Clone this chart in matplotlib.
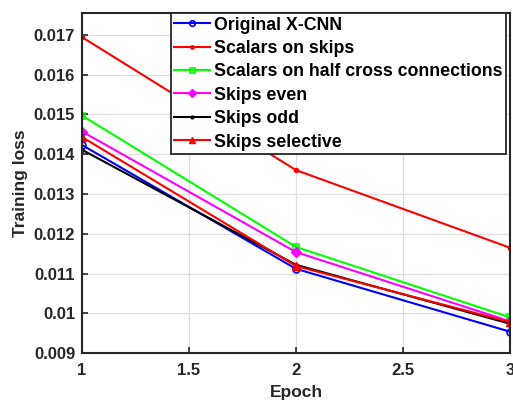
import matplotlib
matplotlib.use("Agg")
import matplotlib.pyplot as plt

plt.rcParams['font.family'] = ['Liberation Sans', 'DejaVu Sans']
plt.rcParams['font.weight'] = 'bold'

epochs = [1, 2, 3]
original_xcnn = [0.01423, 0.01112, 0.00954]
scalars_on_skips = [0.01694, 0.01360, 0.01165]
scalars_half_cross = [0.01497, 0.01167, 0.00990]
skips_even = [0.01457, 0.01154, 0.00980]
skips_odd = [0.01411, 0.01122, 0.00974]
skips_selective = [0.01443, 0.01119, 0.00978]

labels = ["Original X-CNN", "Scalars on skips", "Scalars on half cross connections",
          "Skips even", "Skips odd", "Skips selective"]
x_ticks = [1, 1.5, 2, 2.5, 3]
x_tick_labels = ["1", "1.5", "2", "2.5", "3"]
y_ticks = [0.009, 0.010, 0.011, 0.012, 0.013, 0.014, 0.015, 0.016, 0.017]
y_tick_labels = ["0.009", "0.01", "0.011", "0.012", "0.013", "0.014", "0.015", "0.016", "0.017"]

fig = plt.figure(figsize=(5.13, 4.05), dpi=100)
ax = fig.add_axes([0.160, 0.128, 0.834, 0.840])

styles = [
    dict(color='#0000ff', marker='o', mfc='none', ms=5, mew=1.2),
    dict(color='#ff0000', marker='.', ms=6),
    dict(color='#00ff00', marker='s', mfc='none', ms=4.5, mew=1.2),
    dict(color='#ff00ff', marker='D', ms=5),
    dict(color='#000000', marker='.', ms=5),
    dict(color='#ff0000', marker='^', ms=6),
]
series = [original_xcnn, scalars_on_skips, scalars_half_cross, skips_even, skips_odd, skips_selective]
for vals, lab, st in zip(series, labels, styles):
    ax.plot(epochs, vals, lw=1.5, label=lab, **st)

ax.set_xlim(1, 3)
ax.set_ylim(0.009, 0.01755)
ax.set_xticks(x_ticks)
ax.set_xticklabels(x_tick_labels)
ax.set_yticks(y_ticks)
ax.set_yticklabels(y_tick_labels)
ax.tick_params(labelsize=12, colors='#262626', direction='in', length=4, width=1.2, pad=5)
ax.tick_params(axis='x', pad=7)
for lbl in ax.get_xticklabels() + ax.get_yticklabels():
    lbl.set_fontweight('bold')
ax.grid(True, color='#dedede', lw=0.9)
for sp in ax.spines.values():
    sp.set_color('#262626')
    sp.set_linewidth(1.5)

ax.set_xlabel("Epoch", fontsize=12.5, fontweight='bold', color='#262626', labelpad=5)
ax.set_ylabel("Training loss", fontsize=12.5, fontweight='bold', color='#262626', labelpad=4)

leg = ax.legend(loc='upper right', bbox_to_anchor=(0.99, 1.0), fontsize=12.8,
                frameon=True, fancybox=False, edgecolor='#262626', framealpha=1,
                borderpad=0.2, labelspacing=0.36, handlelength=2.0, handletextpad=0.2,
                borderaxespad=0, markerscale=0.8)
leg.get_frame().set_linewidth(1.3)
for t in leg.get_texts():
    t.set_fontweight('bold')

fig.savefig("out.png", dpi=100)
